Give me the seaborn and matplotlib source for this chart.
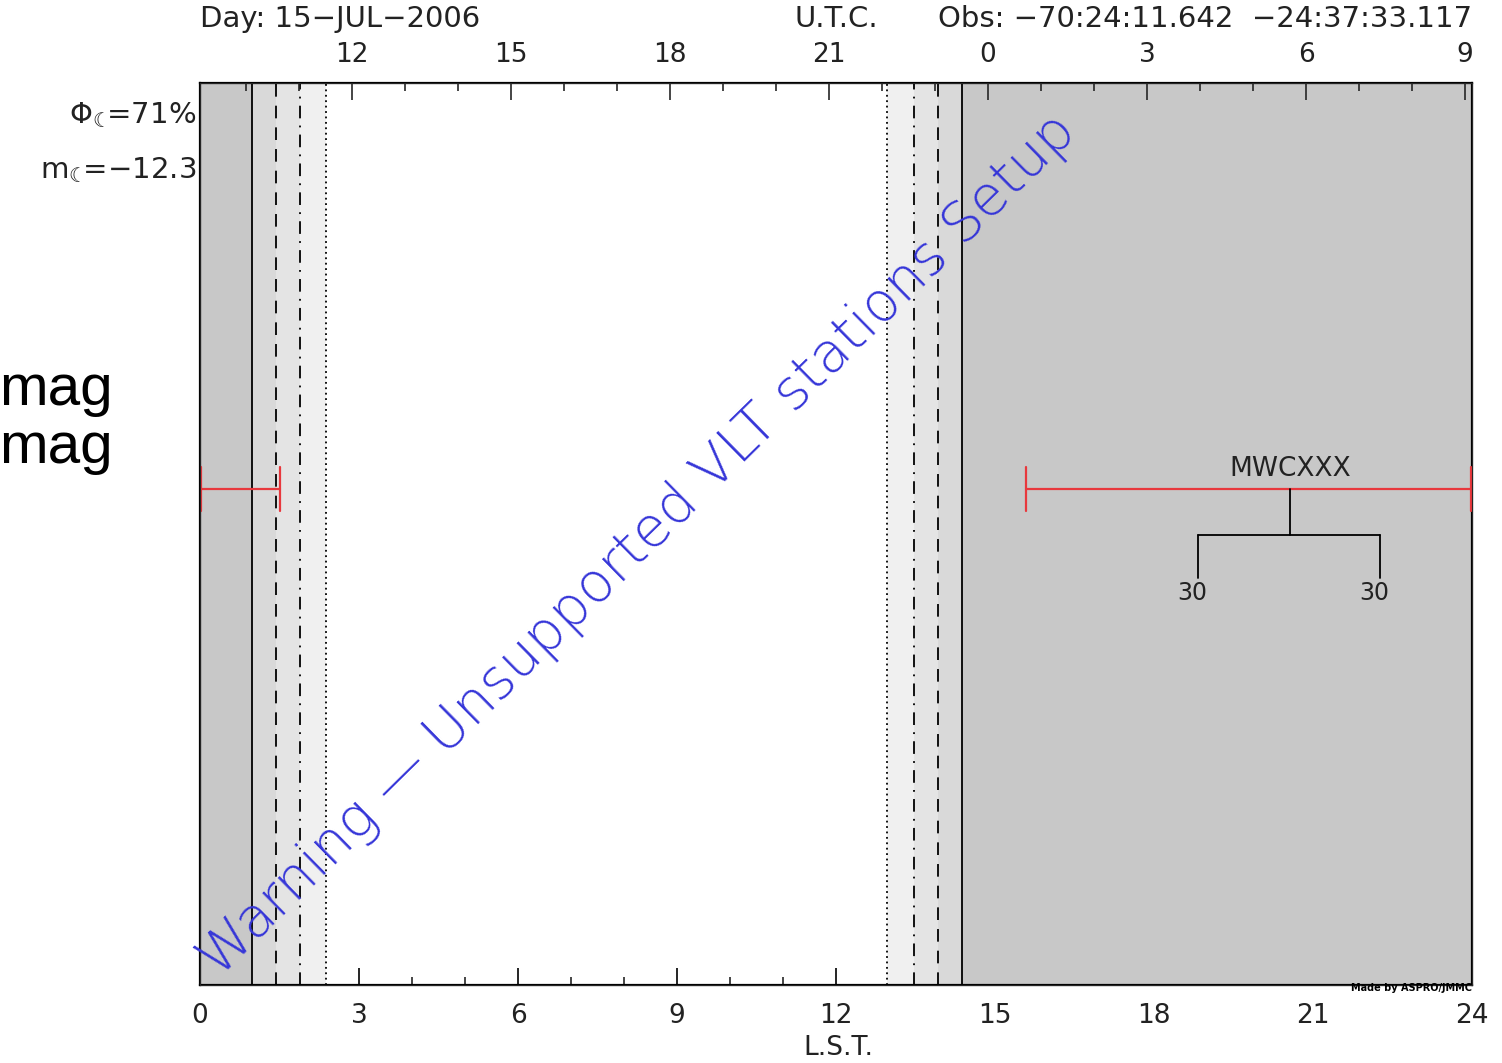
import matplotlib
matplotlib.use("Agg")
import matplotlib.pyplot as plt
import seaborn as sns
import pandas as pd

sns.set_style("white")
plt.rcParams['font.family'] = ['DejaVu Sans']

# ---- data ----
lst_ticks = [0, 3, 6, 9, 12, 15, 18, 21, 24]
utc_offset = 9.13                      # UTC = LST + offset (mod 24)
utc_major = [12, 15, 18, 21, 0, 3, 6, 9]

# twilight lines (solid, dashed, dash-dot, dotted)
morning = [0.98, 1.43, 1.89, 2.38]
evening = [14.38, 13.92, 13.47, 12.96]
line_styles = ['-', (0, (7, 5)), (0, (7, 4, 1, 4)), (0, (1, 2))]
night_color = '#c8c8c8'
band_colors = ['#d9d9d9', '#e4e4e4', '#f0f0f0']

star = "MWCXXX"
star_y = 0.55
obs_start = [0.0, 15.58]
obs_end = [1.51, 24.0]
tree_center = 20.57
tree_branches = [18.83, 22.26]
branch_labels = ["30", "30"]

fig = plt.figure(figsize=(15.02, 10.63), dpi=100)
ax = fig.add_axes([200/1502, 1-985/1063, 1272/1502, 902/1063])

# night & twilight shading
ax.axvspan(0, morning[0], color=night_color, lw=0)
ax.axvspan(evening[0], 24, color=night_color, lw=0)
for i, c in enumerate(band_colors):
    ax.axvspan(morning[i], morning[i+1], color=c, lw=0)
    ax.axvspan(evening[i+1], evening[i], color=c, lw=0)
for x1, x2, ls in zip(morning, evening, line_styles):
    ax.axvline(x1, color='black', lw=1.3, ls=ls)
    ax.axvline(x2, color='black', lw=1.3, ls=ls)

# observability segments
segs = pd.DataFrame({
    'lst': obs_start + obs_end,
    'y': [star_y] * 4,
    'seg': [0, 1, 0, 1],
})
sns.lineplot(data=segs, x='lst', y='y', units='seg', estimator=None,
             color='#e8383d', lw=1.6, ax=ax, legend=False)
cap = 0.0244
for x in obs_start + obs_end:
    x_draw = x + 0.02 if x == 0 else (x - 0.02 if x == 24 else x)
    ax.plot([x_draw, x_draw], [star_y - cap, star_y + cap], color='#e8383d',
            lw=1.6, zorder=3)
ax.set_xlabel('')
ax.set_ylabel('')
ax.set_xlim(0, 24)
ax.set_ylim(0, 1)

ax.text(tree_center, star_y + 0.008, star, ha='center', va='bottom',
        fontsize=19, color='#222222')
y_split = 0.499
y_leaf = 0.451
ax.plot([tree_center, tree_center], [star_y, y_split], color='black', lw=1.3)
ax.plot(tree_branches, [y_split, y_split], color='black', lw=1.3)
for xb, lab in zip(tree_branches, branch_labels):
    ax.plot([xb, xb], [y_split, y_leaf], color='black', lw=1.3)
    ax.text(xb - 0.1, y_leaf - 0.016, lab, ha='center', va='center',
            fontsize=17, color='#222222')

# bottom axis: LST
ax.set_xticks(lst_ticks)
ax.set_xticks(range(25), minor=True)
ax.set_xticklabels([str(t) for t in lst_ticks])
ax.set_yticks([])
ax.tick_params(axis='x', which='major', direction='in', length=12, width=1.2,
               pad=13, labelsize=19, colors='black', top=False)
ax.tick_params(axis='x', which='minor', direction='in', length=6, width=1.2,
               top=False)
for lab in ax.get_xticklabels():
    lab.set_color('#222222')
for sp in ax.spines.values():
    sp.set_linewidth(1.6)
    sp.set_color('black')

# top axis: UTC
top = ax.twiny()
top.set_xlim(0, 24)
major_pos = [(u - utc_offset) % 24 for u in utc_major]
minor_pos = [(h - utc_offset) % 24 for h in range(24)]
top.set_xticks(major_pos)
top.set_xticklabels([str(u) for u in utc_major])
top.set_xticks(minor_pos, minor=True)
top.tick_params(axis='x', which='major', direction='in', length=12, width=1.2,
                pad=11, labelsize=19, labelcolor='#222222')
top.tick_params(axis='x', which='minor', direction='in', length=6, width=1.2)

# watermark
fig.text(638/1502, 1-545/1063, "Warning \u2014 Unsupported VLT stations Setup",
         rotation=44.5, rotation_mode='anchor', ha='center', va='center',
         fontsize=40, color='#3535d8', fontweight='light')

# header texts (partly cut by the top edge)
fig.text(200/1502, 1-27/1063, "Day: 15\u2212JUL\u22122006", ha='left',
         va='baseline', fontsize=21, color='#222222')
fig.text(836/1502, 1-27/1063, "U.T.C.", ha='center', va='baseline',
         fontsize=21, color='#222222')
fig.text(1472/1502, 1-27/1063, "Obs: \u221270:24:11.642  \u221224:37:33.117",
         ha='right', va='baseline', fontsize=21, color='#222222')
fig.text(838/1502, 1-1055/1063, "L.S.T.", ha='center', va='baseline',
         fontsize=19, color='#222222')
fig.text(1472/1502, 1-988/1063, "Made by ASPRO/JMMC", ha='right',
         va='center', fontsize=7, fontweight='bold', color='black')

# moon info
fig.text(196/1502, 1-115/1063, "$\\mathregular{\\Phi_{\u263e}}\\!$=71%",
         ha='right', va='center', fontsize=21, color='#222222')
fig.text(196/1502, 1-170/1063, "$\\mathregular{m_{\u263e}}\\!$=\u221212.3",
         ha='right', va='center', fontsize=21, color='#222222')

# magnitudes (cut at the left edge)
fig.text(113/1502, 1-405/1063, "mag", ha='right', va='baseline',
         fontsize=42, family='Liberation Sans', color='black')
fig.text(113/1502, 1-463/1063, "mag", ha='right', va='baseline',
         fontsize=42, family='Liberation Sans', color='black')

fig.savefig("out.png", dpi=100)
